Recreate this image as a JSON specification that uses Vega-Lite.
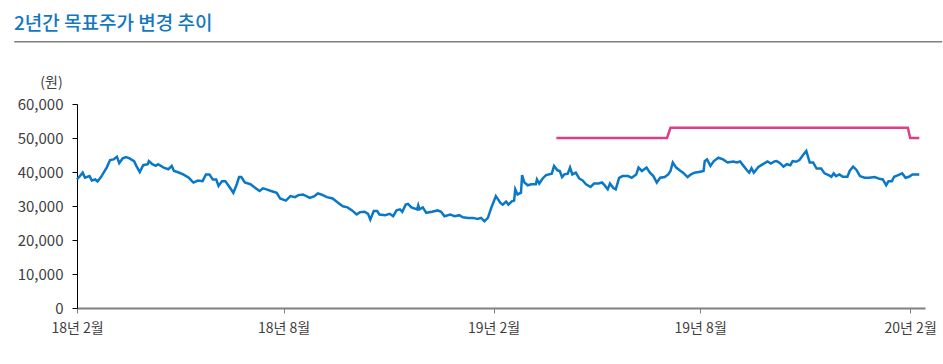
{
  "$schema": "https://vega.github.io/schema/vega-lite/v6.json",
  "width": 848,
  "height": 204,
  "autosize": {"type": "none"},
  "padding": {"left": 77, "top": 104, "right": 18, "bottom": 56},
  "background": "white",
  "title": {
    "text": "2년간 목표주가 변경 추이",
    "anchor": "start",
    "frame": "group",
    "dx": -63,
    "offset": 7,
    "fontSize": 19,
    "font": "Noto Sans CJK KR",
    "fontWeight": 500,
    "color": "#1478c0"
  },
  "config": {
    "view": {"stroke": null},
    "font": "Noto Sans CJK KR",
    "axis": {"labelOverlap": false},
    "axisY": {
      "values": [0, 10000, 20000, 30000, 40000, 50000, 60000],
      "format": ",d",
      "titleAngle": 0,
      "titleX": -26,
      "titleY": -22,
      "titleAlign": "center",
      "titleBaseline": "middle",
      "titleFont": "Noto Sans CJK KR",
      "titleFontSize": 14,
      "titleFontWeight": "normal",
      "titleColor": "#404040",
      "grid": false,
      "domainColor": "#000000",
      "domainWidth": 1,
      "tickColor": "#000000",
      "tickSize": 5,
      "labelFont": "Noto Sans CJK KR",
      "labelFontSize": 15,
      "labelColor": "#404040",
      "labelPadding": 9,
      "labelOverlap": false
    }
  },
  "datasets": {
    "price": [
      {"date": "2018/02/01", "value": 37800},
      {"date": "2018/02/06", "value": 39800},
      {"date": "2018/02/08", "value": 38300},
      {"date": "2018/02/12", "value": 38800},
      {"date": "2018/02/14", "value": 37500},
      {"date": "2018/02/17", "value": 37800},
      {"date": "2018/02/19", "value": 37200},
      {"date": "2018/02/22", "value": 38500},
      {"date": "2018/02/27", "value": 41300},
      {"date": "2018/03/02", "value": 43500},
      {"date": "2018/03/05", "value": 43700},
      {"date": "2018/03/08", "value": 44500},
      {"date": "2018/03/10", "value": 42600},
      {"date": "2018/03/13", "value": 44000},
      {"date": "2018/03/16", "value": 44400},
      {"date": "2018/03/19", "value": 44000},
      {"date": "2018/03/23", "value": 43200},
      {"date": "2018/03/25", "value": 41800},
      {"date": "2018/03/28", "value": 40000},
      {"date": "2018/03/31", "value": 42000},
      {"date": "2018/04/04", "value": 42300},
      {"date": "2018/04/05", "value": 43200},
      {"date": "2018/04/08", "value": 42300},
      {"date": "2018/04/11", "value": 41800},
      {"date": "2018/04/13", "value": 42300},
      {"date": "2018/04/18", "value": 41300},
      {"date": "2018/04/22", "value": 40800},
      {"date": "2018/04/25", "value": 41800},
      {"date": "2018/04/27", "value": 40300},
      {"date": "2018/04/30", "value": 40000},
      {"date": "2018/05/05", "value": 39300},
      {"date": "2018/05/10", "value": 38300},
      {"date": "2018/05/14", "value": 36900},
      {"date": "2018/05/18", "value": 37500},
      {"date": "2018/05/22", "value": 37300},
      {"date": "2018/05/25", "value": 39300},
      {"date": "2018/05/28", "value": 39300},
      {"date": "2018/05/31", "value": 37800},
      {"date": "2018/06/03", "value": 37800},
      {"date": "2018/06/05", "value": 35900},
      {"date": "2018/06/08", "value": 37300},
      {"date": "2018/06/11", "value": 37300},
      {"date": "2018/06/14", "value": 35900},
      {"date": "2018/06/18", "value": 33900},
      {"date": "2018/06/21", "value": 36400},
      {"date": "2018/06/23", "value": 38500},
      {"date": "2018/06/25", "value": 38500},
      {"date": "2018/06/28", "value": 36900},
      {"date": "2018/07/03", "value": 36400},
      {"date": "2018/07/07", "value": 35400},
      {"date": "2018/07/11", "value": 34400},
      {"date": "2018/07/14", "value": 35200},
      {"date": "2018/07/17", "value": 34900},
      {"date": "2018/07/21", "value": 34400},
      {"date": "2018/07/26", "value": 33900},
      {"date": "2018/07/29", "value": 32200},
      {"date": "2018/08/03", "value": 31600},
      {"date": "2018/08/07", "value": 32900},
      {"date": "2018/08/11", "value": 32600},
      {"date": "2018/08/14", "value": 33200},
      {"date": "2018/08/18", "value": 33400},
      {"date": "2018/08/24", "value": 32400},
      {"date": "2018/08/28", "value": 32900},
      {"date": "2018/08/31", "value": 33700},
      {"date": "2018/09/03", "value": 33400},
      {"date": "2018/09/08", "value": 32600},
      {"date": "2018/09/13", "value": 32200},
      {"date": "2018/09/18", "value": 30900},
      {"date": "2018/09/22", "value": 29900},
      {"date": "2018/09/26", "value": 29600},
      {"date": "2018/09/30", "value": 28700},
      {"date": "2018/10/04", "value": 27500},
      {"date": "2018/10/07", "value": 28200},
      {"date": "2018/10/11", "value": 28300},
      {"date": "2018/10/14", "value": 27700},
      {"date": "2018/10/16", "value": 26000},
      {"date": "2018/10/19", "value": 28500},
      {"date": "2018/10/22", "value": 28500},
      {"date": "2018/10/24", "value": 27500},
      {"date": "2018/10/29", "value": 27300},
      {"date": "2018/11/02", "value": 27700},
      {"date": "2018/11/05", "value": 27000},
      {"date": "2018/11/08", "value": 28700},
      {"date": "2018/11/11", "value": 29000},
      {"date": "2018/11/13", "value": 28300},
      {"date": "2018/11/16", "value": 30400},
      {"date": "2018/11/18", "value": 30600},
      {"date": "2018/11/21", "value": 29600},
      {"date": "2018/11/26", "value": 29000},
      {"date": "2018/11/27", "value": 30200},
      {"date": "2018/11/28", "value": 29000},
      {"date": "2018/12/01", "value": 29600},
      {"date": "2018/12/04", "value": 28000},
      {"date": "2018/12/09", "value": 28300},
      {"date": "2018/12/14", "value": 28700},
      {"date": "2018/12/17", "value": 28300},
      {"date": "2018/12/20", "value": 27000},
      {"date": "2018/12/25", "value": 27500},
      {"date": "2018/12/29", "value": 27000},
      {"date": "2019/01/02", "value": 27300},
      {"date": "2019/01/05", "value": 26700},
      {"date": "2019/01/10", "value": 26500},
      {"date": "2019/01/14", "value": 26500},
      {"date": "2019/01/18", "value": 26200},
      {"date": "2019/01/21", "value": 26500},
      {"date": "2019/01/24", "value": 25500},
      {"date": "2019/01/27", "value": 26500},
      {"date": "2019/01/30", "value": 29500},
      {"date": "2019/02/03", "value": 32900},
      {"date": "2019/02/07", "value": 30900},
      {"date": "2019/02/09", "value": 30400},
      {"date": "2019/02/12", "value": 31300},
      {"date": "2019/02/14", "value": 30400},
      {"date": "2019/02/17", "value": 31400},
      {"date": "2019/02/19", "value": 31600},
      {"date": "2019/02/20", "value": 34900},
      {"date": "2019/02/22", "value": 33400},
      {"date": "2019/02/25", "value": 33900},
      {"date": "2019/02/26", "value": 39100},
      {"date": "2019/02/28", "value": 36900},
      {"date": "2019/03/03", "value": 36100},
      {"date": "2019/03/06", "value": 36400},
      {"date": "2019/03/10", "value": 36400},
      {"date": "2019/03/11", "value": 37800},
      {"date": "2019/03/13", "value": 36600},
      {"date": "2019/03/16", "value": 38100},
      {"date": "2019/03/19", "value": 39100},
      {"date": "2019/03/24", "value": 39500},
      {"date": "2019/03/26", "value": 41800},
      {"date": "2019/03/29", "value": 40500},
      {"date": "2019/03/31", "value": 40300},
      {"date": "2019/04/02", "value": 38500},
      {"date": "2019/04/04", "value": 39300},
      {"date": "2019/04/07", "value": 39500},
      {"date": "2019/04/09", "value": 41300},
      {"date": "2019/04/11", "value": 39300},
      {"date": "2019/04/14", "value": 39800},
      {"date": "2019/04/17", "value": 38100},
      {"date": "2019/04/20", "value": 37500},
      {"date": "2019/04/23", "value": 36400},
      {"date": "2019/04/27", "value": 35600},
      {"date": "2019/04/30", "value": 36600},
      {"date": "2019/05/04", "value": 36600},
      {"date": "2019/05/07", "value": 36900},
      {"date": "2019/05/09", "value": 36200},
      {"date": "2019/05/12", "value": 34900},
      {"date": "2019/05/14", "value": 36600},
      {"date": "2019/05/17", "value": 35300},
      {"date": "2019/05/19", "value": 34900},
      {"date": "2019/05/22", "value": 38300},
      {"date": "2019/05/25", "value": 38800},
      {"date": "2019/05/30", "value": 38800},
      {"date": "2019/06/02", "value": 38300},
      {"date": "2019/06/06", "value": 39300},
      {"date": "2019/06/08", "value": 41300},
      {"date": "2019/06/11", "value": 40300},
      {"date": "2019/06/15", "value": 41300},
      {"date": "2019/06/18", "value": 39800},
      {"date": "2019/06/21", "value": 38800},
      {"date": "2019/06/24", "value": 36900},
      {"date": "2019/06/27", "value": 38300},
      {"date": "2019/07/01", "value": 38500},
      {"date": "2019/07/04", "value": 39300},
      {"date": "2019/07/06", "value": 40300},
      {"date": "2019/07/08", "value": 42800},
      {"date": "2019/07/11", "value": 41300},
      {"date": "2019/07/14", "value": 40500},
      {"date": "2019/07/17", "value": 39800},
      {"date": "2019/07/21", "value": 38500},
      {"date": "2019/07/24", "value": 39300},
      {"date": "2019/07/27", "value": 39800},
      {"date": "2019/08/01", "value": 40100},
      {"date": "2019/08/04", "value": 40300},
      {"date": "2019/08/05", "value": 43200},
      {"date": "2019/08/07", "value": 43700},
      {"date": "2019/08/10", "value": 41800},
      {"date": "2019/08/13", "value": 43200},
      {"date": "2019/08/17", "value": 44200},
      {"date": "2019/08/21", "value": 43700},
      {"date": "2019/08/25", "value": 42800},
      {"date": "2019/08/30", "value": 43100},
      {"date": "2019/09/02", "value": 42800},
      {"date": "2019/09/05", "value": 43100},
      {"date": "2019/09/08", "value": 41800},
      {"date": "2019/09/11", "value": 40500},
      {"date": "2019/09/13", "value": 39800},
      {"date": "2019/09/15", "value": 41100},
      {"date": "2019/09/17", "value": 39800},
      {"date": "2019/09/21", "value": 41500},
      {"date": "2019/09/24", "value": 42100},
      {"date": "2019/09/29", "value": 43100},
      {"date": "2019/10/02", "value": 42500},
      {"date": "2019/10/05", "value": 43100},
      {"date": "2019/10/07", "value": 43200},
      {"date": "2019/10/10", "value": 42600},
      {"date": "2019/10/13", "value": 41600},
      {"date": "2019/10/16", "value": 42300},
      {"date": "2019/10/19", "value": 42000},
      {"date": "2019/10/21", "value": 43200},
      {"date": "2019/10/24", "value": 43000},
      {"date": "2019/10/27", "value": 43500},
      {"date": "2019/10/30", "value": 44900},
      {"date": "2019/11/02", "value": 46200},
      {"date": "2019/11/05", "value": 42800},
      {"date": "2019/11/08", "value": 42800},
      {"date": "2019/11/11", "value": 41000},
      {"date": "2019/11/15", "value": 41000},
      {"date": "2019/11/18", "value": 39600},
      {"date": "2019/11/22", "value": 39000},
      {"date": "2019/11/24", "value": 38600},
      {"date": "2019/11/26", "value": 39600},
      {"date": "2019/11/28", "value": 38800},
      {"date": "2019/12/01", "value": 39300},
      {"date": "2019/12/04", "value": 38600},
      {"date": "2019/12/08", "value": 38600},
      {"date": "2019/12/10", "value": 40300},
      {"date": "2019/12/13", "value": 41600},
      {"date": "2019/12/16", "value": 40600},
      {"date": "2019/12/19", "value": 38800},
      {"date": "2019/12/23", "value": 38300},
      {"date": "2019/12/27", "value": 38300},
      {"date": "2020/01/01", "value": 38500},
      {"date": "2020/01/05", "value": 38000},
      {"date": "2020/01/08", "value": 37800},
      {"date": "2020/01/11", "value": 36100},
      {"date": "2020/01/13", "value": 37300},
      {"date": "2020/01/16", "value": 37300},
      {"date": "2020/01/18", "value": 38600},
      {"date": "2020/01/21", "value": 39000},
      {"date": "2020/01/25", "value": 39600},
      {"date": "2020/01/28", "value": 38300},
      {"date": "2020/01/31", "value": 38600},
      {"date": "2020/02/03", "value": 39300},
      {"date": "2020/02/09", "value": 39300}
    ],
    "target": [
      {"date": "2019/03/28", "value": 50000},
      {"date": "2019/07/03", "value": 50000},
      {"date": "2019/07/06", "value": 53000},
      {"date": "2020/01/30", "value": 53000},
      {"date": "2020/02/01", "value": 50000},
      {"date": "2020/02/09", "value": 50000}
    ]
  },
  "layer": [
    {
      "data": {"name": "price"},
      "mark": {"type": "line", "color": "#0a78c8", "strokeWidth": 2.5},
      "encoding": {
        "x": {
          "field": "date",
          "type": "temporal",
          "scale": {"domain": [{"year": 2018, "month": 2, "date": 1}, {"year": 2020, "month": 2, "date": 14}]},
          "axis": {
            "values": [
              {"year": 2018, "month": 2, "date": 1},
              {"year": 2018, "month": 8, "date": 1},
              {"year": 2019, "month": 2, "date": 1},
              {"year": 2019, "month": 8, "date": 1},
              {"year": 2020, "month": 2, "date": 1}
            ],
            "format": "%y년 %-m월",
            "title": null,
            "grid": false,
            "domainColor": "#808080",
            "domainWidth": 2,
            "tickColor": "#808080",
            "tickSize": 5,
            "tickWidth": 1,
            "labelFont": "Noto Sans CJK KR",
            "labelFontSize": 14,
            "labelColor": "#404040",
            "labelPadding": 8,
            "labelFlush": false,
            "labelOverlap": false
          }
        },
        "y": {
          "field": "value",
          "type": "quantitative",
          "scale": {"domain": [0, 60000], "nice": false},
          "axis": {"title": "(원)", "values": [0, 10000, 20000, 30000, 40000, 50000, 60000]}
        }
      }
    },
    {
      "data": {"name": "target"},
      "mark": {"type": "line", "color": "#d9408a", "strokeWidth": 2.5},
      "encoding": {
        "x": {"field": "date", "type": "temporal"},
        "y": {
          "field": "value",
          "type": "quantitative",
          "axis": {"title": "(원)", "values": [0, 10000, 20000, 30000, 40000, 50000, 60000]}
        }
      }
    },
    {
      "data": {"values": [{}]},
      "mark": {"type": "rule", "color": "#7f7f7f", "strokeWidth": 1.5},
      "encoding": {
        "x": {"datum": {"year": 2017, "month": 12, "date": 8}, "type": "temporal"},
        "x2": {"datum": {"year": 2020, "month": 2, "date": 29}},
        "y": {
          "datum": 78300,
          "type": "quantitative",
          "axis": {"title": "(원)", "values": [0, 10000, 20000, 30000, 40000, 50000, 60000]}
        }
      }
    }
  ]
}
